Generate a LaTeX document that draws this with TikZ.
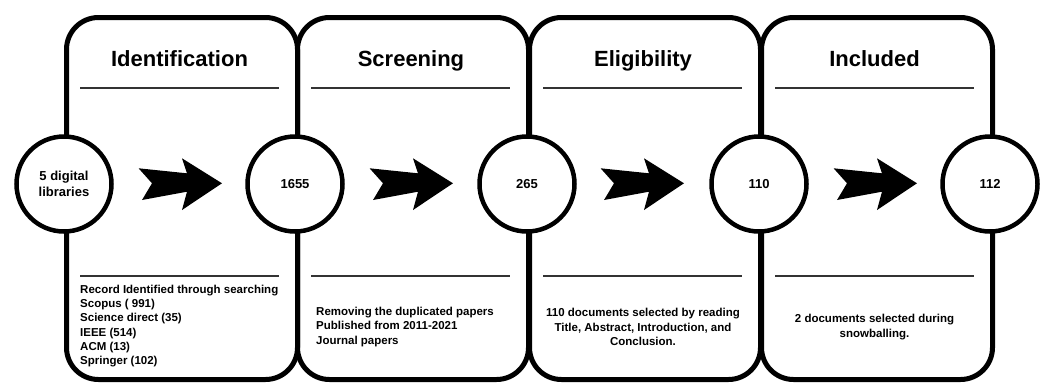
\documentclass[tikz,border=0pt]{standalone}
\usepackage{fontspec}
\setmainfont{Liberation Sans}
\begin{document}
\begin{tikzpicture}[x=1pt,y=-1pt,
  card/.style={draw=black,line width=5pt,rounded corners=32pt,minimum width=231pt,minimum height=362pt,inner sep=0pt,anchor=north west},
  ring/.style={circle,draw=black,line width=4.5pt,fill=white,minimum size=95pt,inner sep=0pt,font=\fontsize{13}{16}\selectfont\bfseries,align=center},
  sep/.style={draw=black!80,line width=2pt},
  title/.style={font=\fontsize{22}{26}\selectfont\bfseries,anchor=base,inner sep=0pt},
  body/.style={font=\fontsize{11.5}{14.2}\selectfont\bfseries,inner sep=0pt},
  chevarrow/.pic={\fill[black] (-83.4,-15) -- (-35,-10) -- (-40,-25) -- (0,0) -- (-40,26.7) -- (-35,8.4) -- (-80,16.7) -- (-70,0) -- cycle;}]
\useasboundingbox (0,0) rectangle (1046,383);
% cards
\node[card] (c1) at (64,15) {};
\node[card] (c2) at (295,15) {};
\node[card] (c3) at (527,15) {};
\node[card] (c4) at (759,15) {};
% separators
\foreach \L in {64,295,527,759}{
  \draw[sep] (\L+16,88) -- (\L+215,88);
  \draw[sep] (\L+16,276) -- (\L+215,276);
}
% titles
\node[title] (t1) at (179.5,66) {Identification};
\node[title] (t2) at (411,66) {Screening};
\node[title] (t3) at (643,66) {Eligibility};
\node[title] (t4) at (874.5,66) {Included};
% circles
\node[ring] (n1) at (64,184) {5 digital\\libraries};
\node[ring] (n2) at (295,184) {1655};
\node[ring] (n3) at (527,184) {265};
\node[ring] (n4) at (759,184) {110};
\node[ring] (n5) at (990,184) {112};
% arrows
\coordinate (a1) at (222,183.3);
\coordinate (a2) at (453,183.3);
\coordinate (a3) at (684,183.3);
\coordinate (a4) at (917,183.3);
\foreach \a in {a1,a2,a3,a4}{\pic at (\a) {chevarrow};}
% body texts
\node[body,align=left,anchor=west] (b1) at (80,326) {Record Identified through searching\\Scopus ( 991)\\Science direct (35)\\IEEE (514)\\ACM (13)\\Springer (102)};
\node[body,align=left,anchor=west] (b2) at (316,327) {Removing the duplicated papers\\Published from 2011-2021\\Journal papers};
\node[body,align=center] (b3) at (643,327) {110 documents selected by reading\\Title, Abstract, Introduction, and\\Conclusion.};
\node[body,align=center] (b4) at (874.5,327) {2 documents selected during\\snowballing.};
\end{tikzpicture}
\end{document}
